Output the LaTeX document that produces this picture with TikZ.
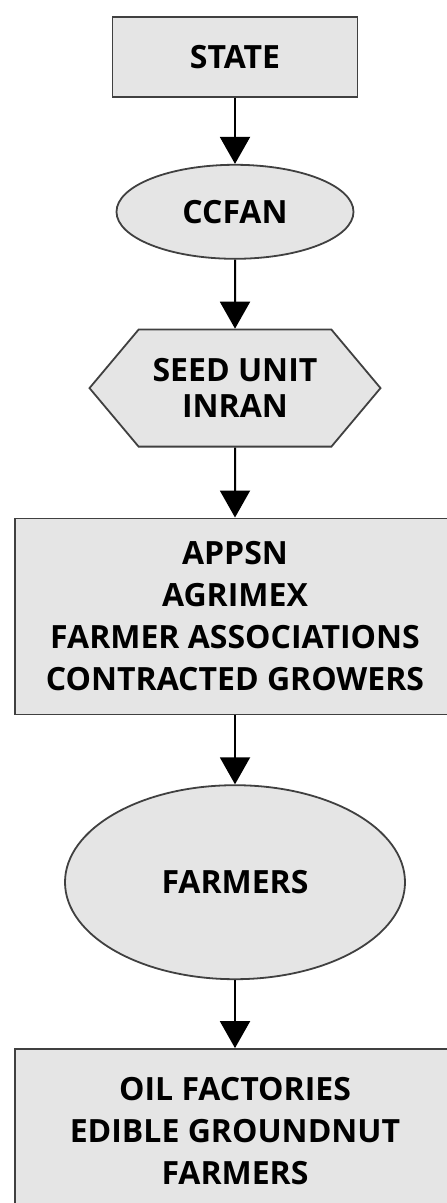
\documentclass[tikz,border=0pt]{standalone}
\usepackage{fontspec}
\setmainfont{Open Sans}
\usetikzlibrary{arrows.meta,shapes.geometric,shapes.symbols,positioning}

\begin{document}
\begin{tikzpicture}[
    every node/.style={font=\bfseries\fontsize{16}{21}\selectfont, align=center, inner sep=0pt},
    unit/.style={draw=black!75, line width=0.9pt, fill=black!10},
    box/.style={unit, rectangle, minimum width=220pt},
    oval/.style={unit, ellipse},
    hexa/.style={unit, signal, signal to=west and east, signal pointer angle=100},
    flow/.style={line width=1pt, -{Triangle[width=15pt,length=13.5pt]}}
  ]
    \useasboundingbox (0,0) rectangle (223pt,-601.5pt);
    % chain of nodes, top to bottom
    \node (state) [box, minimum width=122.5pt, minimum height=40pt] at (117.5pt,-28.5pt) {STATE};
    \node (ccfan) [oval, minimum width=118.5pt, minimum height=47pt, below=33pt of state] {CCFAN};
    \node (seed) [hexa, minimum width=145.5pt, minimum height=58.5pt, below=34.5pt of ccfan,
        font=\bfseries\fontsize{16}{18}\selectfont] {SEED UNIT\\INRAN};
    \node (agents) [box, minimum height=98pt, below=35pt of seed] {APPSN\\AGRIMEX\\FARMER ASSOCIATIONS\\CONTRACTED GROWERS};
    \node (farmers) [oval, minimum width=170pt, minimum height=97pt, below=34.5pt of agents] {FARMERS};
    \node (buyers) [box, minimum height=82pt, below=34pt of farmers] {OIL FACTORIES\\EDIBLE GROUNDNUT\\FARMERS};

    \draw[flow] (state) -- (ccfan);
    \draw[flow] (ccfan) -- (seed);
    \draw[flow] (seed) -- (agents);
    \draw[flow] (agents) -- (farmers);
    \draw[flow] (farmers) -- (buyers);
\end{tikzpicture}
\end{document}
